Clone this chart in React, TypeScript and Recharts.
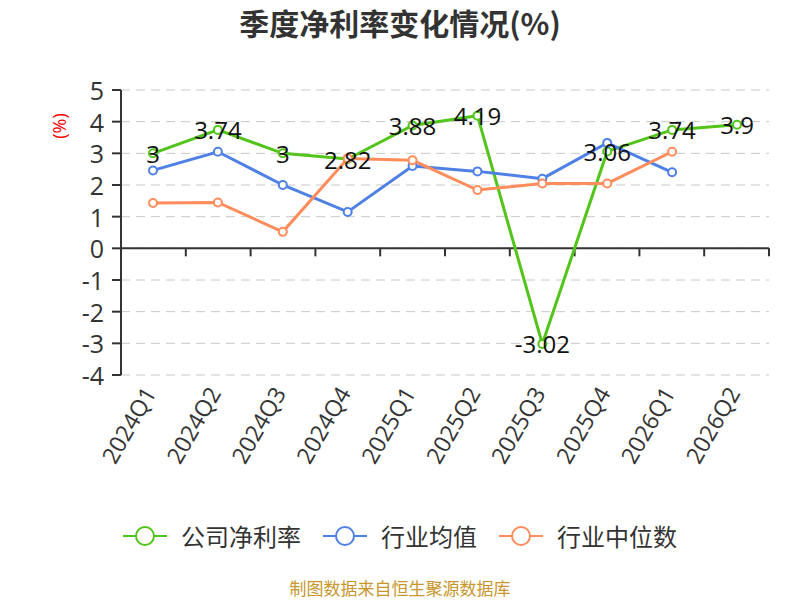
import React from "react";
import {
  LineChart,
  Line,
  XAxis,
  YAxis,
  CartesianGrid,
  ReferenceLine,
  LabelList,
} from "recharts";

const quarters = [
  "2024Q1", "2024Q2", "2024Q3", "2024Q4", "2025Q1",
  "2025Q2", "2025Q3", "2025Q4", "2026Q1", "2026Q2",
];
const companyRate = [3, 3.74, 3, 2.82, 3.88, 4.19, -3.02, 3.06, 3.74, 3.9];
const industryAvg = [2.46, 3.05, 2.0, 1.15, 2.6, 2.43, 2.2, 3.33, 2.4, null];
const industryMedian = [1.43, 1.45, 0.52, 2.84, 2.78, 1.84, 2.05, 2.05, 3.05, null];
const yTicks = [-4, -3, -2, -1, 0, 1, 2, 3, 4, 5];

const GREEN = "#52c41a";
const BLUE = "#4f80e6";
const ORANGE = "#ff8c5a";
const TEXT = "#333";
const FONT = "'Open Sans', 'Noto Sans CJK SC', sans-serif";
const CJK = "'Noto Sans CJK SC', sans-serif";

const series = [
  { key: "company", name: "公司净利率", color: GREEN },
  { key: "avg", name: "行业均值", color: BLUE },
  { key: "median", name: "行业中位数", color: ORANGE },
];

const data = quarters.map((q, i) => ({
  q,
  company: companyRate[i],
  avg: industryAvg[i],
  median: industryMedian[i],
}));

function XTick({ x, y, payload }: any) {
  const ax = x + 4;
  const ay = y + 18;
  return (
    <text
      x={ax}
      y={ay}
      transform={`rotate(-60 ${ax} ${ay})`}
      textAnchor="end"
      fontSize={23}
      fill={TEXT}
      fontFamily={FONT}
    >
      {payload.value}
    </text>
  );
}

function YTick({ x, y, payload }: any) {
  return (
    <text
      x={x}
      y={y}
      textAnchor="end"
      dominantBaseline="central"
      fontSize={25}
      fill={TEXT}
      fontFamily={FONT}
    >
      {payload.value}
    </text>
  );
}

// axis line at zero with the category ticks hanging below it
function ZeroTicks({ viewBox }: any) {
  if (!viewBox) return null;
  const { x, y, width } = viewBox;
  const n = quarters.length;
  return (
    <g>
      {Array.from({ length: n + 1 }).map((_, k) => (
        <line
          key={k}
          x1={x + (width * k) / n}
          x2={x + (width * k) / n}
          y1={y}
          y2={y + 8}
          stroke={TEXT}
          strokeWidth={2}
        />
      ))}
    </g>
  );
}

function ValueLabel({ x, y, value }: any) {
  return (
    <text
      x={x}
      y={y}
      textAnchor="middle"
      dominantBaseline="central"
      fontSize={24}
      fill="#111"
      fontFamily={FONT}
    >
      {value}
    </text>
  );
}

export default function App() {
  return (
    <div
      style={{
        position: "absolute",
        left: 0,
        top: 0,
        width: 800,
        height: 600,
        background: "#fff",
        fontFamily: FONT,
        overflow: "hidden",
      }}
    >
      <div
        style={{
          position: "absolute",
          top: 2,
          width: 800,
          textAlign: "center",
          fontSize: 30,
          lineHeight: "40px",
          fontWeight: "bold",
          color: TEXT,
          fontFamily: CJK,
        }}
      >
        季度净利率变化情况(%)
      </div>

      <div
        style={{
          position: "absolute",
          left: 59,
          top: 126,
          transform: "translate(-50%, -50%) rotate(-90deg)",
          color: "#ff0000",
          fontSize: 18,
          whiteSpace: "nowrap",
        }}
      >
        (%)
      </div>

      <LineChart
        width={800}
        height={600}
        data={data}
        margin={{ top: 90, right: 31, left: 61, bottom: 0 }}
      >
        <CartesianGrid vertical={false} stroke="#c8c8c8" strokeDasharray="9 6" />
        <XAxis
          dataKey="q"
          axisLine={false}
          tickLine={false}
          tickSize={0}
          tickMargin={0}
          height={225}
          interval={0}
          padding={{ left: 32, right: 32 }}
          tick={<XTick />}
        />
        <YAxis
          type="number"
          domain={[-4, 5]}
          ticks={yTicks}
          interval={0}
          width={60}
          axisLine={{ stroke: TEXT, strokeWidth: 2 }}
          tickLine={{ stroke: TEXT, strokeWidth: 2 }}
          tickSize={9}
          tickMargin={8}
          tick={<YTick />}
        />
        <ReferenceLine y={0} stroke={TEXT} strokeWidth={2} label={<ZeroTicks />} />
        <Line
          dataKey="company"
          name="公司净利率"
          stroke={GREEN}
          strokeWidth={3}
          dot={{ r: 4, fill: "#fff", stroke: GREEN, strokeWidth: 2 }}
          isAnimationActive={false}
        >
          <LabelList dataKey="company" content={<ValueLabel />} />
        </Line>
        <Line
          dataKey="avg"
          name="行业均值"
          stroke={BLUE}
          strokeWidth={3}
          dot={{ r: 4, fill: "#fff", stroke: BLUE, strokeWidth: 2 }}
          isAnimationActive={false}
        />
        <Line
          dataKey="median"
          name="行业中位数"
          stroke={ORANGE}
          strokeWidth={3}
          dot={{ r: 4, fill: "#fff", stroke: ORANGE, strokeWidth: 2 }}
          isAnimationActive={false}
        />
      </LineChart>

      <div
        style={{
          position: "absolute",
          top: 521,
          width: 800,
          display: "flex",
          justifyContent: "center",
          alignItems: "center",
          gap: 22,
        }}
      >
        {series.map((s) => (
          <div key={s.key} style={{ display: "flex", alignItems: "center" }}>
            <svg width={44} height={24} style={{ marginRight: 14 }}>
              <line x1={0} x2={44} y1={12} y2={12} stroke={s.color} strokeWidth={2} />
              <circle cx={22} cy={12} r={9} fill="#fff" stroke={s.color} strokeWidth={2} />
            </svg>
            <span style={{ fontSize: 24, lineHeight: "30px", color: TEXT, fontFamily: CJK }}>
              {s.name}
            </span>
          </div>
        ))}
      </div>

      <div
        style={{
          position: "absolute",
          top: 578,
          width: 800,
          textAlign: "center",
          fontSize: 17,
          lineHeight: "20px",
          color: "#c8962b",
          fontFamily: CJK,
        }}
      >
        制图数据来自恒生聚源数据库
      </div>
    </div>
  );
}
